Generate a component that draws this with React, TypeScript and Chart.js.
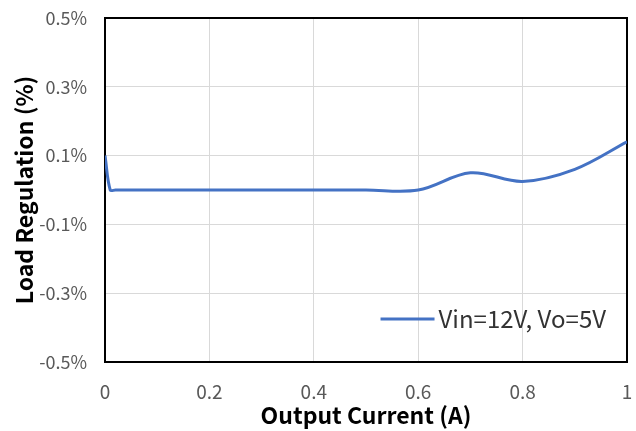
import React, { useEffect, useRef } from "react";
import { Chart, registerables } from "chart.js";

Chart.register(...registerables);

const currentA: number[] = [0, 0.01, 0.02, 0.1, 0.2, 0.3, 0.4, 0.5, 0.6, 0.7, 0.8, 0.9, 1.0];
const regulationPct: number[] = [0.1, 0.0, 0.0, 0.0, 0.0, 0.0, 0.0, 0.0, 0.0, 0.05, 0.025, 0.06, 0.14];
const seriesLabel = "Vin=12V, Vo=5V";
const xTitle = "Output Current (A)";
const yTitle = "Load Regulation (%)";

const FONT = "'Noto Sans CJK SC', 'Noto Sans', sans-serif";
const LINE_COLOR = "#4472C4";

export default function App() {
  const canvasRef = useRef<HTMLCanvasElement | null>(null);

  useEffect(() => {
    document.body.style.margin = "0";
    const canvas = canvasRef.current;
    if (!canvas) return;

    const framePlugin = {
      id: "frame",
      beforeDatasetsDraw(chart: any) {
        const { ctx, chartArea } = chart;
        ctx.save();
        ctx.strokeStyle = "#000000";
        ctx.lineWidth = 2;
        ctx.strokeRect(chartArea.left, chartArea.top, chartArea.right - chartArea.left, chartArea.bottom - chartArea.top);
        ctx.restore();
      },
    };

    const legendPlugin = {
      id: "insideLegend",
      afterDatasetsDraw(chart: any) {
        const { ctx, chartArea } = chart;
        const label = chart.data.datasets[0].label as string;
        ctx.save();
        ctx.font = `24px ${FONT}`;
        ctx.fillStyle = "#333333";
        ctx.textBaseline = "middle";
        const w = ctx.measureText(label).width;
        const textRight = chartArea.right - 21;
        const textLeft = textRight - w;
        const y = chartArea.bottom - 43;
        ctx.fillText(label, textLeft, y);
        ctx.strokeStyle = LINE_COLOR;
        ctx.lineWidth = 3;
        ctx.beginPath();
        ctx.moveTo(textLeft - 58, y);
        ctx.lineTo(textLeft - 4, y);
        ctx.stroke();
        ctx.restore();
      },
    };

    const zeroPad = (scale: any) => {
      scale.paddingLeft = 0;
      scale.paddingRight = 0;
      scale.paddingTop = 0;
      scale.paddingBottom = 0;
    };

    const chart = new Chart(canvas, {
      type: "scatter",
      data: {
        datasets: [
          {
            label: seriesLabel,
            data: currentA.map((x, i) => ({ x, y: regulationPct[i] })),
            showLine: true,
            borderColor: LINE_COLOR,
            backgroundColor: LINE_COLOR,
            borderWidth: 3,
            pointRadius: 0,
            tension: 0.35,
          },
        ],
      },
      options: {
        animation: false,
        responsive: true,
        maintainAspectRatio: false,
        layout: { padding: { left: 0, right: 9, top: 18, bottom: 0 } },
        plugins: {
          legend: { display: false },
          tooltip: { enabled: false },
        },
        scales: {
          x: {
            type: "linear",
            min: 0,
            max: 1,
            afterFit(scale: any) {
              scale.height = 69;
              zeroPad(scale);
            },
            ticks: {
              stepSize: 0.2,
              color: "#595959",
              font: { family: FONT, size: 19 },
              padding: 18,
              callback: (v: any) => {
                const n = Math.round(Number(v) * 10) / 10;
                return String(n);
              },
            },
            grid: { color: "#d9d9d9", lineWidth: 1, drawTicks: false },
            border: { display: false },
            title: {
              display: true,
              text: xTitle,
              color: "#000000",
              font: { family: FONT, size: 23, weight: "bold" },
              padding: { top: 0, bottom: 2 },
            },
          },
          y: {
            type: "linear",
            min: -0.5,
            max: 0.5,
            afterFit(scale: any) {
              scale.width = 105;
              zeroPad(scale);
            },
            ticks: {
              stepSize: 0.2,
              color: "#595959",
              font: { family: FONT, size: 18 },
              padding: 18,
              callback: (v: any) => {
                const n = Math.round(Number(v) * 10) / 10;
                return n.toFixed(1) + "%";
              },
            },
            grid: { color: "#d9d9d9", lineWidth: 1, drawTicks: false },
            border: { display: false },
            title: {
              display: true,
              text: yTitle,
              color: "#000000",
              font: { family: FONT, size: 23, weight: "bold" },
              padding: { top: 10, bottom: 0 },
            },
          },
        },
      } as any,
      plugins: [framePlugin, legendPlugin],
    });

    return () => chart.destroy();
  }, []);

  return (
    <div style={{ position: "relative", width: 636, height: 431 }}>
      <canvas ref={canvasRef} />
    </div>
  );
}
